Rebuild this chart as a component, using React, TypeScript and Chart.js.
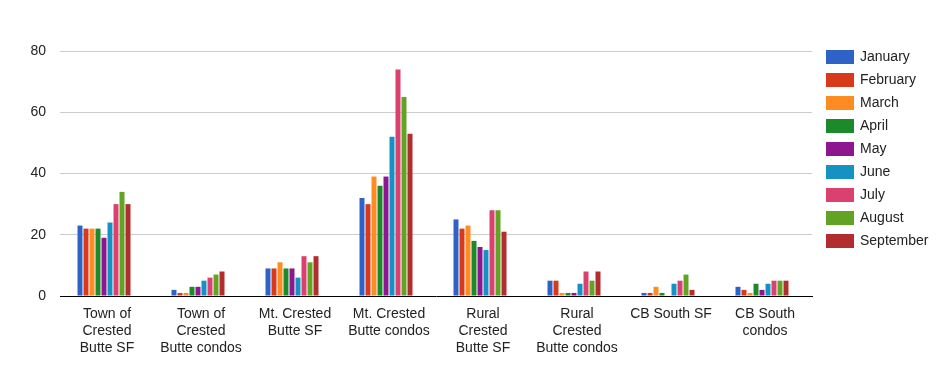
import React, { useEffect, useRef } from "react";
import { Chart, registerables } from "chart.js";

Chart.register(...registerables);

const categories: string[][] = [
  ["Town of", "Crested", "Butte SF"],
  ["Town of", "Crested", "Butte condos"],
  ["Mt. Crested", "Butte SF"],
  ["Mt. Crested", "Butte condos"],
  ["Rural", "Crested", "Butte SF"],
  ["Rural", "Crested", "Butte condos"],
  ["CB South SF"],
  ["CB South", "condos"],
];

const months = ["January", "February", "March", "April", "May", "June", "July", "August", "September"];

const january = [23, 2, 9, 32, 25, 5, 1, 3];
const february = [22, 1, 9, 30, 22, 5, 1, 2];
const march = [22, 1, 11, 39, 23, 1, 3, 1];
const april = [22, 3, 9, 36, 18, 1, 1, 4];
const may = [19, 3, 9, 39, 16, 1, 0, 2];
const june = [24, 5, 6, 52, 15, 4, 4, 4];
const july = [30, 6, 13, 74, 28, 8, 5, 5];
const august = [34, 7, 11, 65, 28, 5, 7, 5];
const september = [30, 8, 13, 53, 21, 8, 2, 5];

const seriesValues = [january, february, march, april, may, june, july, august, september];

const colors = ["#2f62c6", "#d8391b", "#fe8c22", "#1c8a2b", "#8d178e", "#1592c1", "#da416e", "#62a326", "#b22d2d"];

const yTicks = [0, 20, 40, 60, 80];

const FONT = '"Liberation Sans", Arial, Helvetica, sans-serif';

const legendPlugin = {
  id: "sideLegend",
  afterDraw(chart: any) {
    const ctx = chart.ctx;
    ctx.save();
    ctx.font = `14px ${FONT}`;
    ctx.textBaseline = "middle";
    ctx.textAlign = "left";
    chart.data.datasets
      .filter((ds: any) => ds.label)
      .forEach((ds: any, i: number) => {
        const top = 50 + i * 23;
        ctx.fillStyle = ds.backgroundColor;
        ctx.fillRect(826, top, 28, 14);
        ctx.fillStyle = "#222";
        ctx.fillText(ds.label, 860, top + 7.5);
      });
    ctx.restore();
  },
};

export default function App() {
  const ref = useRef<HTMLCanvasElement | null>(null);

  useEffect(() => {
    document.body.style.margin = "0";
    const canvas = ref.current;
    if (!canvas) return;
    const barOpts = { borderWidth: 0, categoryPercentage: 60 / 94, barPercentage: 5 / 6 };
    const chart = new Chart(canvas, {
      type: "bar",
      data: {
        labels: categories,
        datasets: [
          ...months.map((m, i) => ({
            label: m,
            data: seriesValues[i],
            backgroundColor: colors[i],
            ...barOpts,
          })),
          // empty trailing slot: the reference leaves a gap after each group
          { label: "", data: categories.map(() => null), backgroundColor: "rgba(0,0,0,0)", ...barOpts },
        ],
      },
      options: {
        animation: false,
        responsive: true,
        maintainAspectRatio: false,
        layout: { padding: { top: 51, right: 138, bottom: 0, left: 0 } },
        plugins: {
          legend: { display: false },
          tooltip: { enabled: false },
        },
        scales: {
          x: {
            grid: { display: false, drawTicks: false },
            border: { display: true, color: "#000", width: 1 },
            ticks: {
              autoSkip: false,
              maxRotation: 0,
              minRotation: 0,
              padding: 10,
              color: "#222",
              font: { family: FONT, size: 14, lineHeight: 16.8 / 14 },
            },
            afterFit: (s: any) => {
              s.height = 81;
            },
          },
          y: {
            min: 0,
            max: 80,
            grid: {
              color: (c: any) => (c.tick && c.tick.value === 0 ? "rgba(0,0,0,0)" : "#cccccc"),
              lineWidth: 1,
              drawTicks: false,
            },
            border: { display: false },
            afterBuildTicks: (s: any) => {
              s.ticks = yTicks.map((v) => ({ value: v }));
            },
            ticks: {
              padding: 14,
              color: "#222",
              font: { family: FONT, size: 14 },
            },
            afterFit: (s: any) => {
              s.width = 60;
            },
          },
        },
      },
      plugins: [legendPlugin],
    });
    return () => chart.destroy();
  }, []);

  return (
    <div style={{ width: 950, height: 377, position: "relative" }}>
      <canvas ref={ref} />
    </div>
  );
}
